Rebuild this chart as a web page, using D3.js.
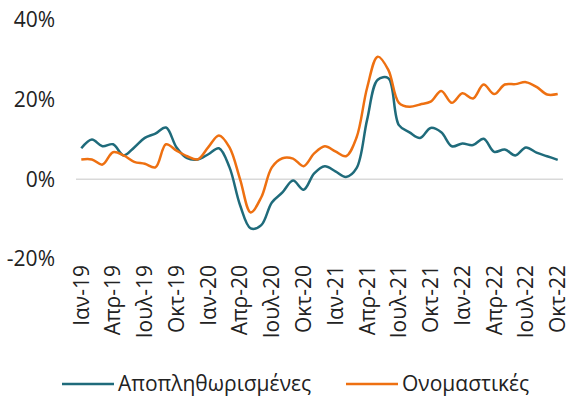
<!DOCTYPE html>
<html>
<head>
<meta charset="utf-8">
<script src="https://cdn.jsdelivr.net/npm/d3@7"></script>
<style>
  body { margin: 0; background: #fff; }
  text { font-family: "Open Sans", sans-serif; fill: #222; }
</style>
</head>
<body>
<div id="container"></div>
<script>
/* CONSTANTS AND GLOBALS */
const width = 577;
const height = 404;

// monthly, Jan-19 .. Oct-22
const months = d3.range(46).map(i => new Date(2019, i, 1));
const monthNames = ["Ιαν", "Φεβ", "Μαρ", "Απρ", "Μαϊ", "Ιουν", "Ιουλ", "Αυγ", "Σεπ", "Οκτ", "Νοε", "Δεκ"];

const deflated = [7.8, 10.0, 8.3, 8.8, 6.0, 8.0, 10.4, 11.5, 13.0, 8.0, 5.3, 5.0,
  6.3, 7.8, 3.0, -6.5, -12.3, -11.5, -5.8, -3.3, -0.3, -2.6, 1.5, 3.3,
  2.0, 0.6, 2.8, 15.0, 25.0, 25.4, 13.6, 11.8, 10.4, 12.9, 11.8, 8.3,
  9.0, 8.6, 10.2, 6.9, 7.5, 6.0, 8.0, 6.7, 5.8, 4.9];

const nominal = [5.0, 5.0, 3.7, 6.8, 6.0, 4.4, 3.9, 3.0, 8.8, 7.2, 5.8, 5.0,
  8.1, 11.0, 8.0, 0.0, -8.3, -4.5, 3.0, 5.3, 5.2, 3.3, 6.5, 8.3,
  7.0, 5.8, 10.5, 23.0, 30.8, 27.5, 19.2, 18.2, 18.8, 19.5, 22.2, 19.2,
  21.6, 20.3, 23.8, 21.4, 23.8, 23.9, 24.4, 23.2, 21.3, 21.4];

const yTicks = [-20, 0, 20, 40];
const seriesNames = ["Αποπληθωρισμένες", "Ονομαστικές"];
const colors = ["#1f6b7b", "#ee7011"];

const label = d => monthNames[d.getMonth()] + "-" + String(d.getFullYear()).slice(2);

const svg = d3.select("#container")
  .append("svg")
  .attr("width", width)
  .attr("height", height);

/* SCALES */
const xScale = d3.scaleBand()
  .domain(months)
  .range([76, 563])
  .padding(0);

const yScale = d3.scaleLinear()
  .domain([-20, 40])
  .range([259, 20]);

const xc = d => xScale(d) + xScale.bandwidth() / 2;

// y labels
svg.selectAll(".ylab")
  .data(yTicks)
  .join("text")
  .attr("class", "ylab")
  .attr("x", 55)
  .attr("y", d => yScale(d))
  .attr("dy", "0.35em")
  .attr("text-anchor", "end")
  .style("font-size", "21px")
  .text(d => d + "%");

// zero line
svg.append("line")
  .attr("x1", 76).attr("x2", 563)
  .attr("y1", yScale(0)).attr("y2", yScale(0))
  .attr("stroke", "#d9d9d9")
  .attr("stroke-width", 1.5);

// x labels every 3 months
svg.selectAll(".xlab")
  .data(months.filter(d => d.getMonth() % 3 === 0))
  .join("text")
  .attr("class", "xlab")
  .attr("transform", d => `translate(${xc(d)},265) rotate(-90)`)
  .attr("dy", "0.35em")
  .attr("text-anchor", "end")
  .style("font-size", "21px")
  .text(label);

/* LINES */
const line = d3.line()
  .x((d, i) => xc(months[i]))
  .y(d => yScale(d))
  .curve(d3.curveCatmullRom.alpha(0.5));

[deflated, nominal].forEach((s, k) => {
  svg.append("path")
    .datum(s)
    .attr("fill", "none")
    .attr("stroke", colors[k])
    .attr("stroke-width", 2.5)
    .attr("stroke-linejoin", "round")
    .attr("d", line);
});

/* LEGEND */
const legendX = [62, 346];
seriesNames.forEach((n, k) => {
  const g = svg.append("g").attr("transform", `translate(${legendX[k]},384)`);
  g.append("line")
    .attr("x1", 0).attr("x2", 52)
    .attr("stroke", colors[k])
    .attr("stroke-width", 2.5);
  g.append("text")
    .attr("x", 56)
    .attr("dy", "0.35em")
    .style("font-size", "21px")
    .text(n);
});
</script>
</body>
</html>
